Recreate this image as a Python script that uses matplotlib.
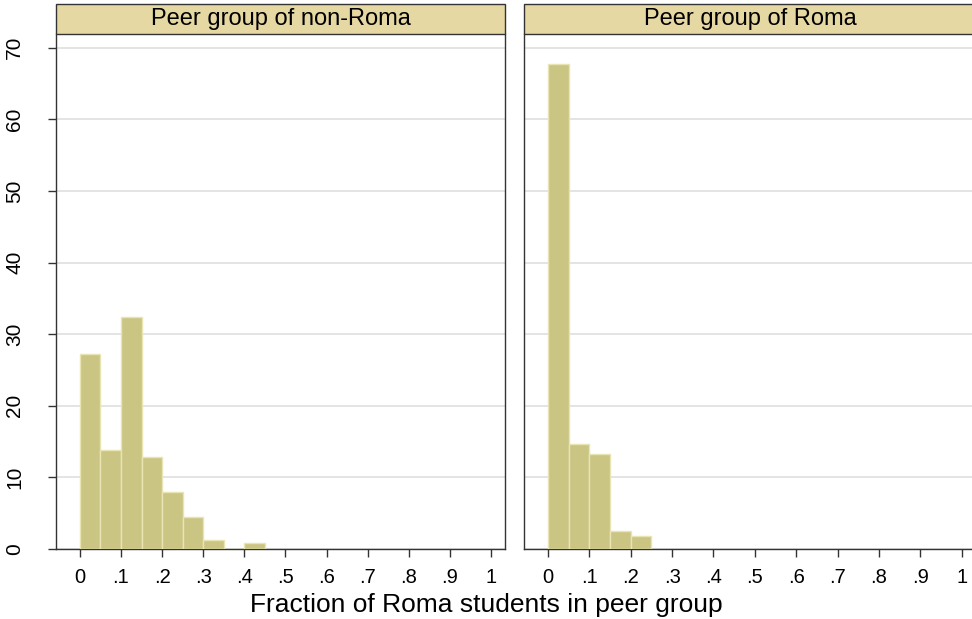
import matplotlib
matplotlib.use("Agg")
import matplotlib.pyplot as plt
from matplotlib.patches import Rectangle

plt.rcParams['font.family'] = ['Liberation Sans', 'DejaVu Sans']

# histogram data (percent), bin width 0.05
bin_width = 0.05
nonroma_bins = [0.00, 0.05, 0.10, 0.15, 0.20, 0.25, 0.30, 0.35, 0.40]
nonroma_pct = [27.2, 13.8, 32.4, 12.8, 7.9, 4.5, 1.2, 0.0, 0.8]
roma_bins = [0.00, 0.05, 0.10, 0.15, 0.20]
roma_pct = [67.7, 14.7, 13.3, 2.5, 1.8]

panel_titles = ["Peer group of non-Roma", "Peer group of Roma"]
xticks = [0, .1, .2, .3, .4, .5, .6, .7, .8, .9, 1]
xticklabels = ["0", ".1", ".2", ".3", ".4", ".5", ".6", ".7", ".8", ".9", "1"]
yticks = [0, 10, 20, 30, 40, 50, 60, 70]

bar_color = "#cbc584"
bar_edge = "#e9e4b4"
strip_color = "#e6d8a2"
grid_color = "#dcdcdc"
axis_color = "#333333"

fig = plt.figure(figsize=(9.72, 6.19), dpi=100)
ax1 = fig.add_axes([0.0576, 0.113, 0.462, 0.832])
ax2 = fig.add_axes([0.539, 0.113, 0.465, 0.832])

for ax, bins, pct, title in [(ax1, nonroma_bins, nonroma_pct, panel_titles[0]),
                             (ax2, roma_bins, roma_pct, panel_titles[1])]:
    ax.bar(bins, pct, width=bin_width, align='edge', color=bar_color,
           edgecolor=bar_edge, linewidth=1.0, zorder=3)
    ax.set_xlim(-0.058, 1.034)
    ax.set_ylim(0, 71.9)
    ax.set_yticks(yticks)
    ax.set_xticks(xticks)
    ax.set_xticklabels(xticklabels, fontsize=14.5)
    ax.grid(axis='y', color=grid_color, linewidth=1.1, zorder=0)
    ax.set_axisbelow(True)
    for s in ax.spines.values():
        s.set_color(axis_color)
        s.set_linewidth(1.0)
    ax.spines['top'].set_visible(False)
    ax.tick_params(axis='x', length=6, width=1, color=axis_color, pad=8)
    # strip header
    strip = Rectangle((0, 1.0), 1, 0.058, transform=ax.transAxes,
                      facecolor=strip_color, edgecolor=axis_color,
                      linewidth=1.0, clip_on=False, zorder=5)
    ax.add_patch(strip)
    ax.text(0.5, 1.029, title, transform=ax.transAxes, ha='center',
            va='center', fontsize=17, zorder=6)

ax1.set_yticklabels([str(v) for v in yticks], fontsize=15, rotation=90,
                    va='center')
ax1.tick_params(axis='y', length=6, width=1, color=axis_color, pad=17)
ax2.tick_params(axis='y', left=False, labelleft=False)

fig.text(0.5, 0.022, "Fraction of Roma students in peer group",
         ha='center', va='center', fontsize=19)

fig.savefig("out.png", dpi=100)
